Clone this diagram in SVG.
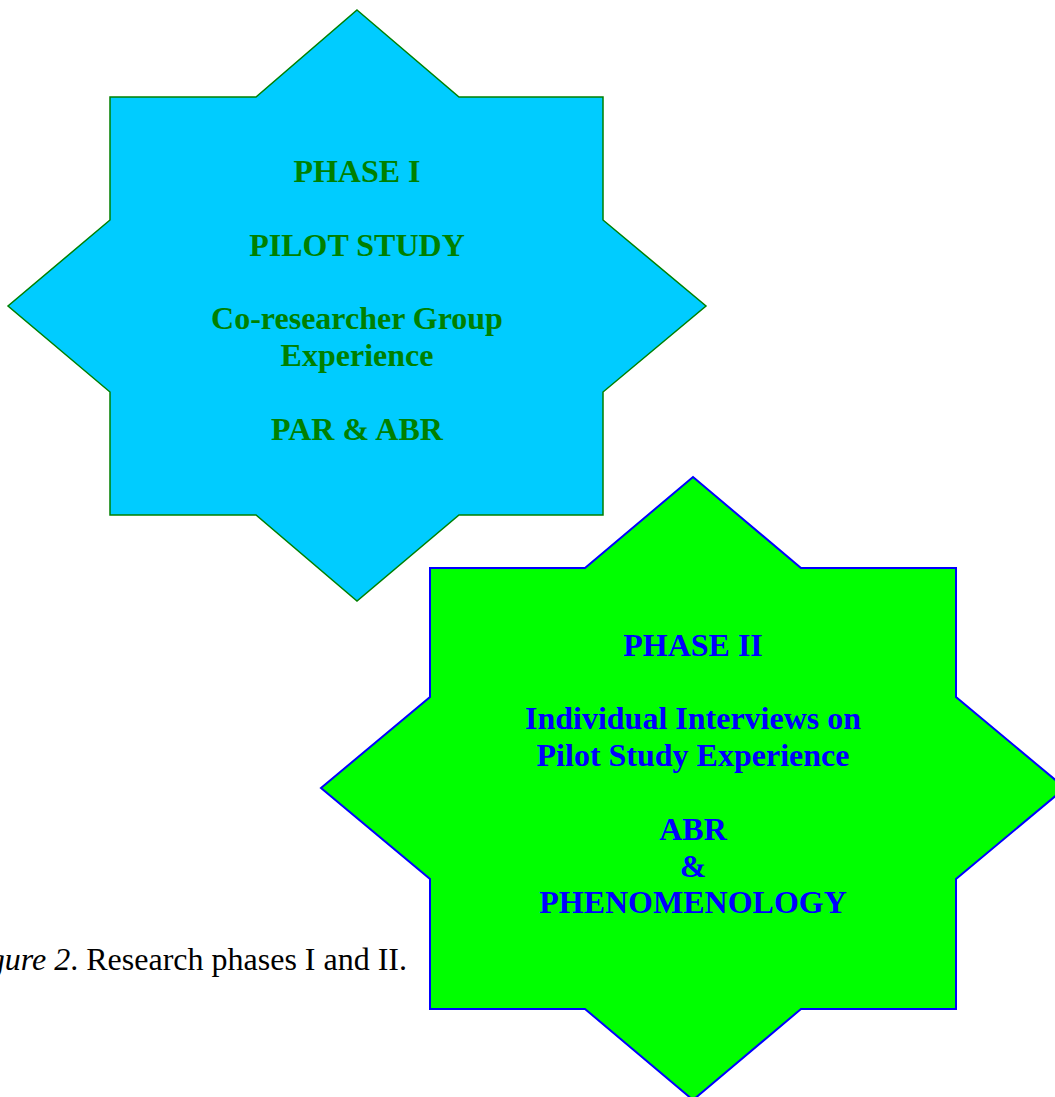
<svg xmlns="http://www.w3.org/2000/svg" width="1055" height="1097" viewBox="0 0 1055 1097">
<style>
.lbl{font-family:"Liberation Serif","Times New Roman",serif;font-weight:bold;font-size:32px;text-anchor:middle}
.s1{fill:#00CCFF;stroke:#008000;stroke-width:1.5;stroke-linejoin:miter}
.t1{fill:#008000}
.s2{fill:#00FF00;stroke:#0000FF;stroke-width:2;stroke-linejoin:miter}
.t2{fill:#0000FF}
.cap{font-family:"Liberation Serif","Times New Roman",serif;font-size:32px;fill:#000}
</style>
<rect width="1055" height="1097" fill="#fff"/>
<g id="connectors"/>
<g id="phase1">
<polygon class="s1" points="357,10 459,97 603,97 603,220 706,306 603,392 603,515 459,515 357,601 256,515 110,515 110,392 8,306 110,220 110,97 256,97"/>
<text class="lbl t1" x="357" y="182">PHASE I</text>
<text class="lbl t1" x="357" y="256">PILOT STUDY</text>
<text class="lbl t1" x="357" y="329">Co-researcher Group</text>
<text class="lbl t1" x="357" y="366">Experience</text>
<text class="lbl t1" x="357" y="440">PAR &amp; ABR</text>
</g>
<g id="phase2">
<polygon class="s2" points="693,477 801,568 956,568 956,697 1065,788 956,879 956,1009 801,1009 693,1100 585,1009 430,1009 430,879 321,788 430,697 430,568 585,568"/>
<text class="lbl t2" x="693" y="656">PHASE II</text>
<text class="lbl t2" x="693" y="729">Individual Interviews on</text>
<text class="lbl t2" x="693" y="766">Pilot Study Experience</text>
<text class="lbl t2" x="693" y="840">ABR</text>
<text class="lbl t2" x="693" y="877">&amp;</text>
<text class="lbl t2" x="693" y="913">PHENOMENOLOGY</text>
</g>
<g id="caption">
<text class="cap" x="407" y="970" text-anchor="end"><tspan font-style="italic">Figure 2</tspan>. Research phases I and II.</text>
</g>
</svg>
